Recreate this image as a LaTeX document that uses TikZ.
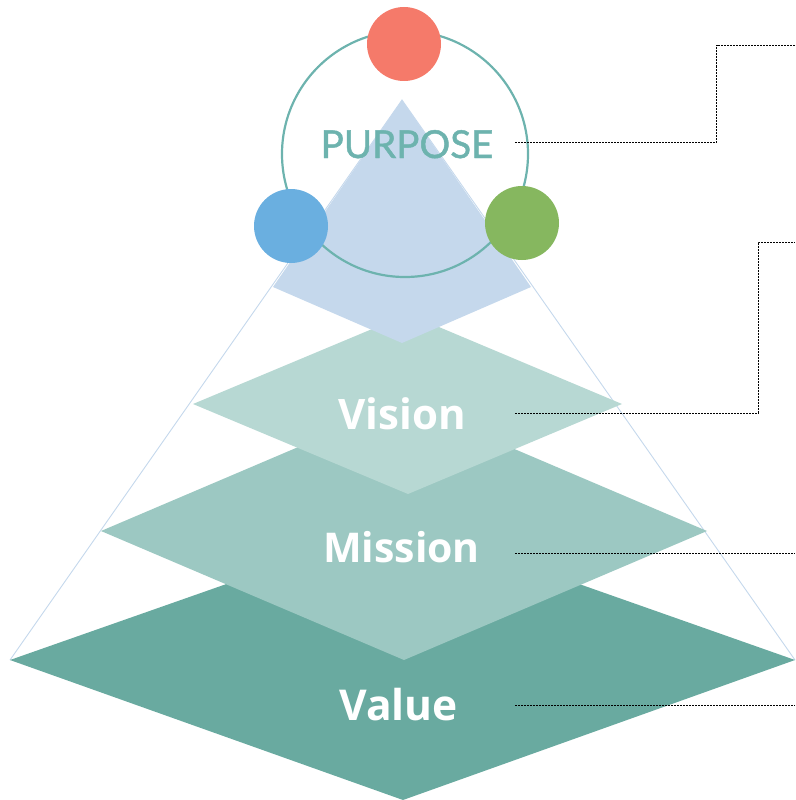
\documentclass[tikz,border=0pt]{standalone}
\usepackage{fontspec}
\setmainfont{Open Sans}
\newfontfamily\purposefont[FakeBold=1.2]{Lato}
\definecolor{valuec}{HTML}{69AAA0}
\definecolor{missionc}{HTML}{9CC8C2}
\definecolor{visionc}{HTML}{B7D8D3}
\definecolor{topc}{HTML}{C5D8EC}
\definecolor{ringc}{HTML}{6DB3AE}
\definecolor{redc}{HTML}{F57A6A}
\definecolor{bluec}{HTML}{6AAFE0}
\definecolor{greenc}{HTML}{86B75F}
\tikzset{
  layer/.style={draw=none},
  outline/.style={draw=topc, line width=0.9pt},
  lab/.style={text=white, anchor=base, inner sep=0pt},
  leader/.style={draw=black, line width=0.8pt, dash pattern=on 2pt off 1pt},
  dot/.style={circle, draw=none, minimum size=74pt, inner sep=0pt}
}
\begin{document}
\begin{tikzpicture}[x=1pt,y=-1pt]
\useasboundingbox (0,0) rectangle (795,800);
% outline of the pyramid
\coordinate (apex) at (402,100);
\coordinate (bl) at (10,660);
\coordinate (br) at (795,660);
\draw[outline] (bl) -- (apex) -- (br);
% layers
\fill[valuec] (10,660) -- (403,522) -- (795,660) -- (403,800) -- cycle;
\fill[missionc] (101,531) -- (404,402) -- (707,531) -- (404,660) -- cycle;
\fill[visionc] (193,404) -- (408,314) -- (622,404) -- (408,494) -- cycle;
\fill[topc] (apex) -- (531,287) -- (402,343) -- (273,287) -- cycle;
% ring
\node[circle, draw=ringc, line width=2.2pt, minimum size=246pt, inner sep=0pt] (ring) at (405,154) {};
% labels
\node[anchor=base, inner sep=0pt, text=ringc, font=\purposefont\fontsize{38.5}{44}\selectfont] (purpose) at (407,158) {PURPOSE};
\node[lab, font=\fontsize{42}{48}\selectfont\bfseries] (vision) at (402,429) {Vision};
\node[lab, font=\fontsize{41}{48}\selectfont\bfseries] (mission) at (401.5,562) {Mission};
\node[lab, font=\fontsize{42.5}{48}\selectfont\bfseries] (value) at (398.5,720) {Value};
% coloured dots
\node[dot, fill=redc] (red) at (404,44) {};
\node[dot, fill=bluec] (blue) at (291,226) {};
\node[dot, fill=greenc] (green) at (522,223) {};
% leaders
\coordinate (p0) at (515,142);
\coordinate (p1) at (795,45);
\coordinate (v0) at (515,413);
\coordinate (v1) at (795,242);
\coordinate (m0) at (515,553);
\coordinate (m1) at (795,553);
\coordinate (a0) at (515,705);
\coordinate (a1) at (795,705);
\draw[leader] (p0) -- (716.5,142) -- (716.5,45) -- (p1);
\draw[leader] (v0) -- (758,413) -- (758,242) -- (v1);
\draw[leader] (m0) -- (m1);
\draw[leader] (a0) -- (a1);
\end{tikzpicture}
\end{document}
